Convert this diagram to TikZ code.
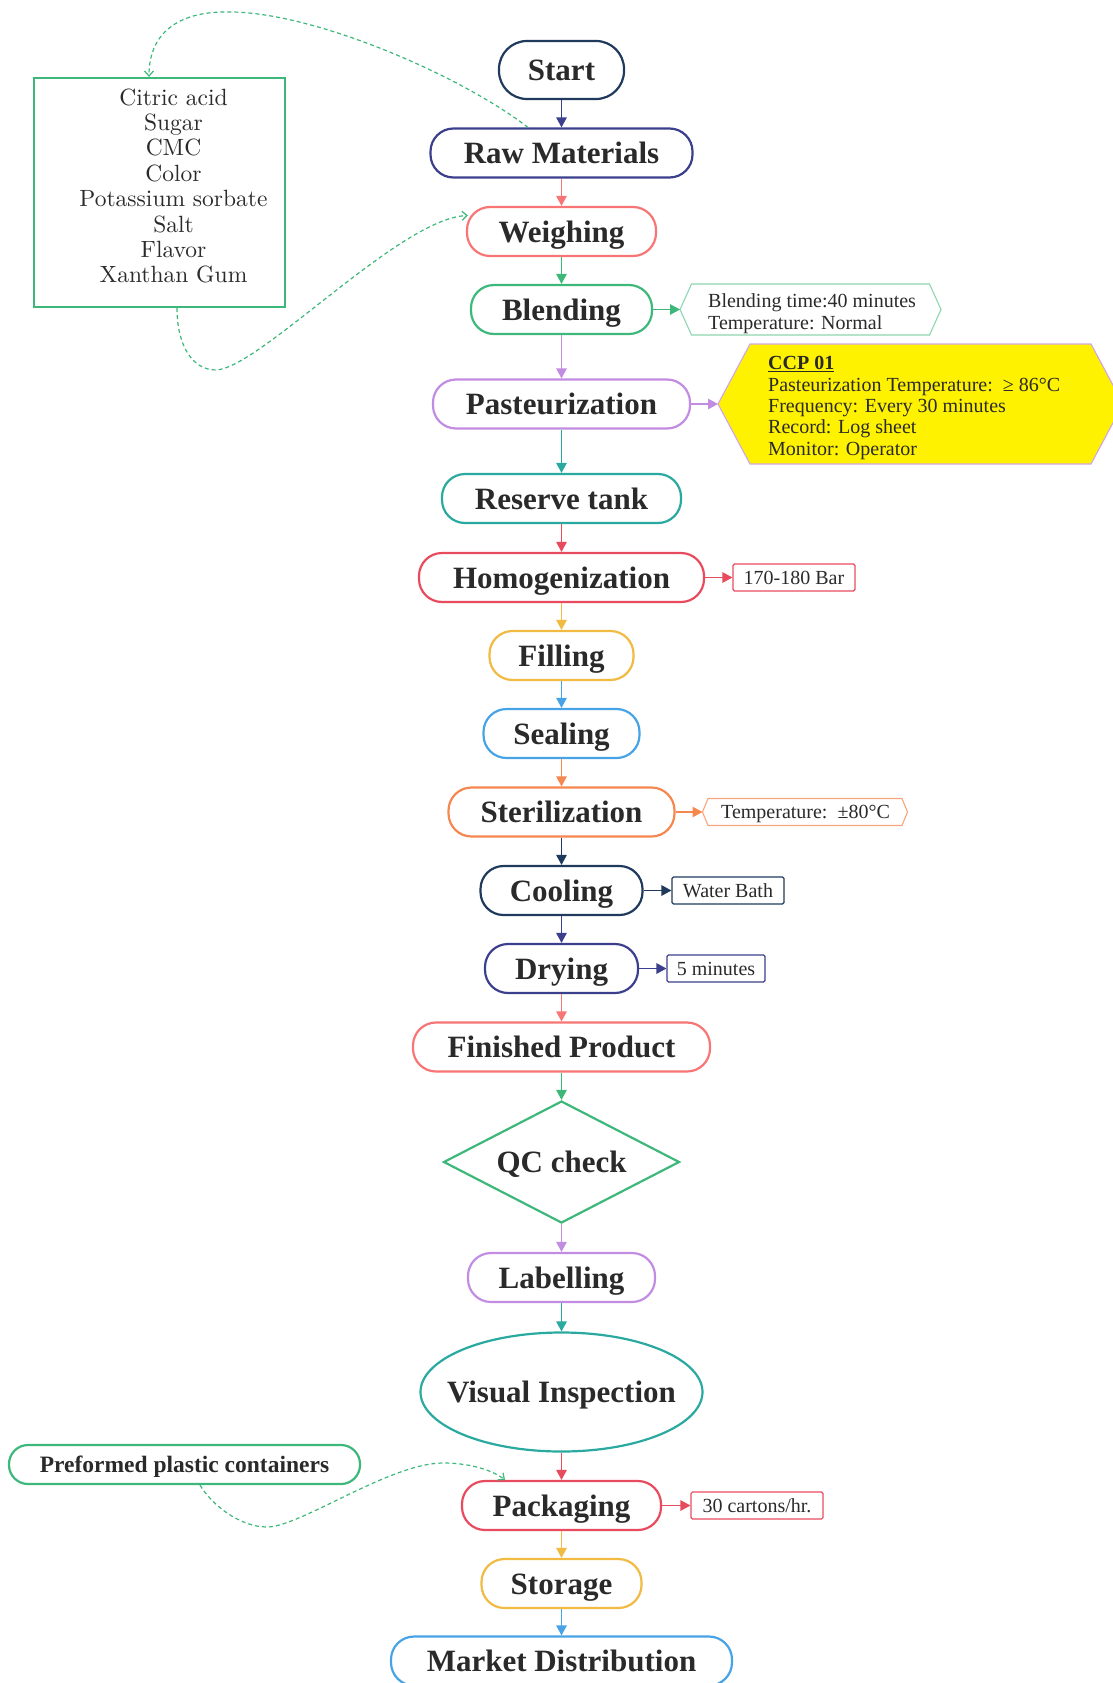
\documentclass[tikz,border=0pt]{standalone}
\usepackage{fontspec}
\newfontfamily\tnr{Liberation Serif}
\newfontfamily\listfont{lmroman10-regular.otf}
\usetikzlibrary{arrows.meta,shapes.geometric}

\definecolor{cnavy}{HTML}{1F3A5C}
\definecolor{cindigo}{HTML}{3B3F8C}
\definecolor{csalmon}{HTML}{F87575}
\definecolor{cgreen}{HTML}{3DB87A}
\definecolor{clav}{HTML}{C28CE2}
\definecolor{cteal}{HTML}{29A99F}
\definecolor{cred}{HTML}{E84B5E}
\definecolor{cgold}{HTML}{F1BA43}
\definecolor{cblue}{HTML}{47A3E6}
\definecolor{corange}{HTML}{F5874F}
\definecolor{ctext}{HTML}{2A2A2A}
\definecolor{cpalegreen}{HTML}{8ED6B0}
\definecolor{cpaleorange}{HTML}{F9A57C}
\definecolor{cpalelav}{HTML}{CFA6EA}

% hexagonal outline around an (undrawn) node: #1 node, #2 point depth, #3 path options
\newcommand\hexframe[3]{%
  \path[#3] (#1.west) -- ([xshift=#2]#1.north west) -- ([xshift=-#2]#1.north east)
    -- (#1.east) -- ([xshift=-#2]#1.south east) -- ([xshift=#2]#1.south west) -- cycle;}

\tikzset{
  flowbox/.style={draw, rectangle, line width=2.2pt, fill=white, inner sep=0pt,
    text=ctext, font=\tnr\bfseries\fontsize{31}{37}\selectfont,
    text height=21.5pt, text depth=0pt, minimum height=49pt, rounded corners=23pt},
  flow/.style={line width=1.3pt, -{Triangle[length=10pt,width=10.5pt]}},
  notebox/.style={draw, rectangle, line width=1.1pt, rounded corners=1.5pt, inner sep=0pt,
    text=ctext, font=\tnr\fontsize{20}{22}\selectfont,
    text height=13.5pt, text depth=0pt, minimum height=27pt},
  hexnode/.style={rectangle, inner sep=0pt, outer sep=0pt},
  notetext/.style={inner sep=0pt, text=ctext, align=left, anchor=west,
    font=\tnr\fontsize{20}{21.4}\selectfont},
  dashlink/.style={draw=cgreen, line width=1.2pt, dash pattern=on 4pt off 3pt,
    -{Straight Barb[length=5pt,width=9pt]}},
}

\begin{document}
\begin{tikzpicture}[x=1pt,y=-1pt]
\useasboundingbox (0,0) rectangle (1112,1683);

% ---- main process column ----
\node[flowbox, draw=cnavy, minimum width=125pt, minimum height=58pt, rounded corners=28pt] (start) at (561.5,70) {Start};
\node[flowbox, draw=cindigo, minimum width=262pt] (raw) at (561.5,153) {Raw Materials};
\node[flowbox, draw=csalmon, minimum width=189pt] (weigh) at (561.5,231.5) {Weighing};
\node[flowbox, draw=cgreen, minimum width=181pt] (blend) at (561.5,309.5) {Blending};
\node[flowbox, draw=clav, minimum width=257pt] (past) at (561.5,404) {Pasteurization};
\node[flowbox, draw=cteal, minimum width=239pt] (reserve) at (561.5,498.5) {Reserve tank};
\node[flowbox, draw=cred, minimum width=285pt] (homog) at (561.5,577.5) {Homogenization};
\node[flowbox, draw=cgold, minimum width=144pt] (fill) at (561.5,655.5) {Filling};
\node[flowbox, draw=cblue, minimum width=156pt] (seal) at (561.5,733.5) {Sealing};
\node[flowbox, draw=corange, minimum width=226pt] (steril) at (561.5,812) {Sterilization};
\node[flowbox, draw=cnavy, minimum width=162pt] (cool) at (561.5,890.5) {Cooling};
\node[flowbox, draw=cindigo, minimum width=153pt] (dry) at (561.5,968.5) {Drying};
\node[flowbox, draw=csalmon, minimum width=297pt] (fin) at (561.5,1047) {Finished Product};
\node[flowbox, diamond, rounded corners=0pt, draw=cgreen, minimum width=236pt, minimum height=122pt] (qc) at (561.5,1162) {\makebox[0pt]{QC check}};
\node[flowbox, draw=clav, minimum width=187pt] (label) at (561.5,1277.5) {Labelling};
\node[flowbox, ellipse, rounded corners=0pt, draw=cteal, minimum width=282pt, minimum height=119pt] (visual) at (561.5,1392) {\makebox[0pt]{Visual Inspection}};
\node[flowbox, draw=cred, minimum width=199pt] (pack) at (561.5,1505.5) {Packaging};
\node[flowbox, draw=cgold, minimum width=160pt] (store) at (561.5,1583.5) {Storage};
\node[flowbox, draw=cblue, minimum width=341pt] (market) at (561.5,1661) {Market Distribution};

\draw[flow, cindigo] (start.south) -- (raw.north);
\draw[flow, csalmon] (raw.south) -- (weigh.north);
\draw[flow, cgreen] (weigh.south) -- (blend.north);
\draw[flow, clav] (blend.south) -- (past.north);
\draw[flow, cteal] (past.south) -- (reserve.north);
\draw[flow, cred] (reserve.south) -- (homog.north);
\draw[flow, cgold] (homog.south) -- (fill.north);
\draw[flow, cblue] (fill.south) -- (seal.north);
\draw[flow, corange] (seal.south) -- (steril.north);
\draw[flow, cnavy] (steril.south) -- (cool.north);
\draw[flow, cindigo] (cool.south) -- (dry.north);
\draw[flow, csalmon] (dry.south) -- (fin.north);
\draw[flow, cgreen] (fin.south) -- (qc.north);
\draw[flow, clav] (qc.south) -- (label.north);
\draw[flow, cteal] (label.south) -- (visual.north);
\draw[flow, cred] (visual.south) -- (pack.north);
\draw[flow, cgold] (pack.south) -- (store.north);
\draw[flow, cblue] (store.south) -- (market.north);

% ---- side notes ----
\node[hexnode, minimum width=261pt, minimum height=51pt] (bnote) at (810.5,309.5) {};
\hexframe{bnote}{11.5pt}{draw=cpalegreen, line width=1.1pt, fill=white}
\node[notetext] (bnotetext) at (708,313.5) {Blending time:40 minutes\\Temperature: Normal};
\draw[flow, cgreen] (blend.east) -- (bnote.west);

\node[hexnode, minimum width=405pt, minimum height=120pt] (ccp) at (920.5,404) {};
\hexframe{ccp}{32pt}{draw=cpalelav, line width=1.1pt, fill=yellow}
\node[notetext] (ccptext) at (768,408) {\underline{\textbf{CCP 01}}\\
  Pasteurization Temperature:\ \ ≥ 86°C\\
  Frequency: Every 30 minutes\\
  Record: Log sheet\\
  Monitor: Operator};
\draw[flow, clav] (past.east) -- (ccp.west);

\node[notebox, draw=cred, minimum width=122pt] (hnote) at (794,577.5) {170-180 Bar};
\draw[flow, cred] (homog.east) -- (hnote.west);

\node[hexnode, minimum width=205pt, minimum height=27pt] (snote) at (805,812) {};
\hexframe{snote}{5.5pt}{draw=cpaleorange, line width=1.1pt, fill=white}
\node[inner sep=0pt, text=ctext, font=\tnr\fontsize{20}{22}\selectfont, text height=13.5pt, text depth=0pt] (snotetext) at (805.5,812) {Temperature:\ \ ±80°C};
\draw[flow, corange] (steril.east) -- (snote.west);

\node[notebox, draw=cnavy, minimum width=112pt] (cnote) at (728,890.5) {Water Bath};
\draw[flow, cnavy] (cool.east) -- (cnote.west);

\node[notebox, draw=cindigo, minimum width=98pt] (dnote) at (716,968.5) {5 minutes};
\draw[flow, cindigo] (dry.east) -- (dnote.west);

\node[notebox, draw=cred, minimum width=132pt] (pnote) at (757,1505.5) {30 cartons/hr.};
\draw[flow, cred] (pack.east) -- (pnote.west);

% ---- ingredient list ----
\node[draw=cgreen, line width=2.2pt, minimum width=251pt, minimum height=229pt] (ing) at (159.5,192.5) {};
\node[inner sep=0pt, align=center, text=ctext, font=\listfont\fontsize{23.5}{25.4}\selectfont] (inglist) at (173.5,186)
  {Citric acid\\Sugar\\CMC\\Color\\Potassium sorbate\\Salt\\Flavor\\Xanthan Gum};

\draw[dashlink] ([xshift=-33.5pt]raw.north) .. controls (460,75) and (310,10) .. (225,12)
  .. controls (185,12) and (149,28) .. ([xshift=-10.5pt]ing.north);
\draw[dashlink] ([xshift=17.5pt]ing.south) .. controls (177,345) and (192,370) .. (216,370)
  .. controls (260,368) and (400,218) .. ([xshift=2pt,yshift=16pt]weigh.west);

% ---- containers feeding packaging ----
\node[flowbox, draw=cgreen, minimum width=351pt, minimum height=39pt, rounded corners=19pt,
  font=\tnr\bfseries\fontsize{23.5}{28}\selectfont, text height=16pt] (pre) at (184.5,1464.5) {Preformed plastic containers};
\draw[dashlink] ([xshift=15.5pt]pre.south) .. controls (212,1505) and (240,1527) .. (267,1527)
  .. controls (300,1527) and (390,1463) .. (443,1463)
  .. controls (470,1463) and (492,1470) .. ([xshift=-56.5pt]pack.north);

\end{tikzpicture}
\end{document}
